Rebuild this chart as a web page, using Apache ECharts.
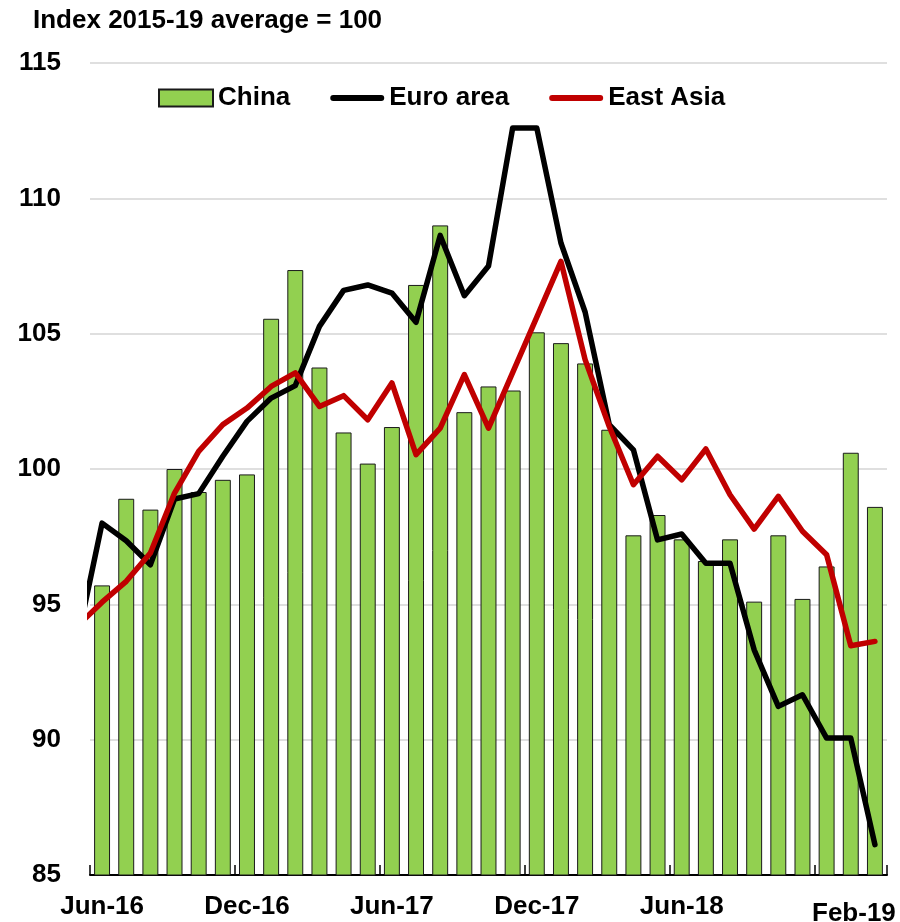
<!DOCTYPE html>
<html>
<head>
<meta charset="utf-8">
<script src="https://cdn.jsdelivr.net/npm/echarts/dist/echarts.min.js"></script>
<style>
  html, body { margin: 0; padding: 0; background: #fff; }
  #chart { width: 900px; height: 922px; }
</style>
</head>
<body>
<div id="chart"></div>
<script>
// categories (bars)
const months = ['Jun-16', 'Jul-16', 'Aug-16', 'Sep-16', 'Oct-16', 'Nov-16', 'Dec-16',
  'Jan-17', 'Feb-17', 'Mar-17', 'Apr-17', 'May-17', 'Jun-17', 'Jul-17', 'Aug-17', 'Sep-17',
  'Oct-17', 'Nov-17', 'Dec-17', 'Jan-18', 'Feb-18', 'Mar-18', 'Apr-18', 'May-18', 'Jun-18',
  'Jul-18', 'Aug-18', 'Sep-18', 'Oct-18', 'Nov-18', 'Dec-18', 'Jan-19', 'Feb-19']
// only these months get a label
const shownLabels = ['Jun-16', 'Dec-16', 'Jun-17', 'Dec-17', 'Jun-18', 'Feb-19']

const china = [95.7, 98.9, 98.5, 100.0, 99.15, 99.6, 99.8, 105.55, 107.35, 103.75, 101.35,
  100.2, 101.55, 106.8, 109.0, 102.1, 103.05, 102.9, 105.05, 104.65, 103.9, 101.45, 97.55,
  98.3, 97.4, 96.6, 97.4, 95.1, 97.55, 95.2, 96.4, 100.6, 98.6]

// line series start one month earlier (May-16), that point is cut by the plot edge
const lineMonths = ['May-16'].concat(months)
const euroArea = [93.75, 98.0, 97.35, 96.46, 98.89, 99.09, 100.47, 101.76, 102.62, 103.08,
  105.27, 106.6, 106.8, 106.5, 105.42, 108.63, 106.4, 107.5, 112.6, 112.6, 108.35, 105.8,
  101.64, 100.71, 97.38, 97.6, 96.52, 96.52, 93.32, 91.23, 91.66, 90.06, 90.06, 86.12]
const eastAsia = [94.22, 95.08, 95.85, 96.9, 99.11, 100.65, 101.64, 102.25, 103.05, 103.55,
  102.31, 102.71, 101.82, 103.18, 100.53, 101.51, 103.49, 101.51, 103.56, 105.61, 107.67,
  104.04, 101.57, 99.42, 100.47, 99.6, 100.74, 99.05, 97.78, 98.99, 97.7, 96.83, 93.47, 93.63]

const yTicks = { min: 85, max: 115, step: 5 }

// line points placed by month index on a hidden value axis (May-16 -> -1)
function toPoints(arr) {
  return arr.map((v, i) => [months.indexOf(lineMonths[i]), v])
}

const font = "'Liberation Sans', Arial, sans-serif"
// thick line with round ends for the legend
const lineIcon = 'path://M3,0 L51,0 A3,3 0 0 1 51,6 L3,6 A3,3 0 0 1 3,0 Z'

let myChart = echarts.init(document.getElementById('chart'))
let option = {
  animation: false,
  title: {
    text: 'Index 2015-19 average = 100',
    left: 28,
    top: 3,
    textStyle: { fontFamily: font, fontSize: 26, fontWeight: 'bold', color: '#000' }
  },
  legend: {
    left: 153,
    top: 80,
    itemWidth: 54,
    itemHeight: 17,
    itemGap: 40,
    textStyle: { fontFamily: font, fontSize: 26, fontWeight: 'bold', color: '#000' },
    data: [
      { name: 'China', icon: 'rect' },
      { name: 'Euro area', icon: lineIcon, symbolKeepAspect: true },
      { name: 'East Asia', icon: lineIcon, symbolKeepAspect: true }
    ]
  },
  grid: { left: 90, right: 13, top: 63, bottom: 47, outerBoundsMode: 'none' },
  xAxis: [{
    type: 'category',
    data: months,
    boundaryGap: true,
    axisLine: { lineStyle: { color: '#000', width: 2 } },
    axisTick: {
      show: true,
      interval: function (index) { return index % 6 === 0 && index < months.length },
      inside: true,
      length: 10,
      lineStyle: { color: '#000', width: 1.5 }
    },
    axisLabel: {
      interval: 0,
      margin: 19,
      fontFamily: font,
      fontSize: 26,
      fontWeight: 'bold',
      color: '#000',
      formatter: function (value) {
        if (shownLabels.indexOf(value) < 0) return ''
        if (value === 'Feb-19') return '{last|' + value + '}'
        return value
      },
      rich: {
        last: { fontFamily: font, fontSize: 26, fontWeight: 'bold', color: '#000', padding: [7, 42, 0, 0] }
      }
    },
    splitLine: { show: false }
  }, {
    type: 'value',
    min: -0.5,
    max: months.length - 0.5,
    show: false
  }],
  yAxis: {
    type: 'value',
    min: yTicks.min,
    max: yTicks.max,
    interval: yTicks.step,
    axisLine: { show: false },
    axisTick: { show: false },
    axisLabel: { margin: 29, fontFamily: font, fontSize: 26, fontWeight: 'bold', color: '#000' },
    splitLine: { lineStyle: { color: '#d4d4d4', width: 1.5 } }
  },
  series: [{
    name: 'China',
    type: 'bar',
    xAxisIndex: 0,
    barCategoryGap: '34%',
    data: china,
    itemStyle: { color: '#92d050', borderColor: '#1a1a1a', borderWidth: 1 }
  }, {
    name: 'Euro area',
    type: 'line',
    xAxisIndex: 1,
    data: toPoints(euroArea),
    symbol: 'none',
    clip: true,
    itemStyle: { color: '#000' },
    lineStyle: { color: '#000', width: 5.5, cap: 'round', join: 'round' }
  }, {
    name: 'East Asia',
    type: 'line',
    xAxisIndex: 1,
    data: toPoints(eastAsia),
    symbol: 'none',
    clip: true,
    itemStyle: { color: '#c00000' },
    lineStyle: { color: '#c00000', width: 5.5, cap: 'round', join: 'round' }
  }]
}
myChart.setOption(option)
</script>
</body>
</html>
